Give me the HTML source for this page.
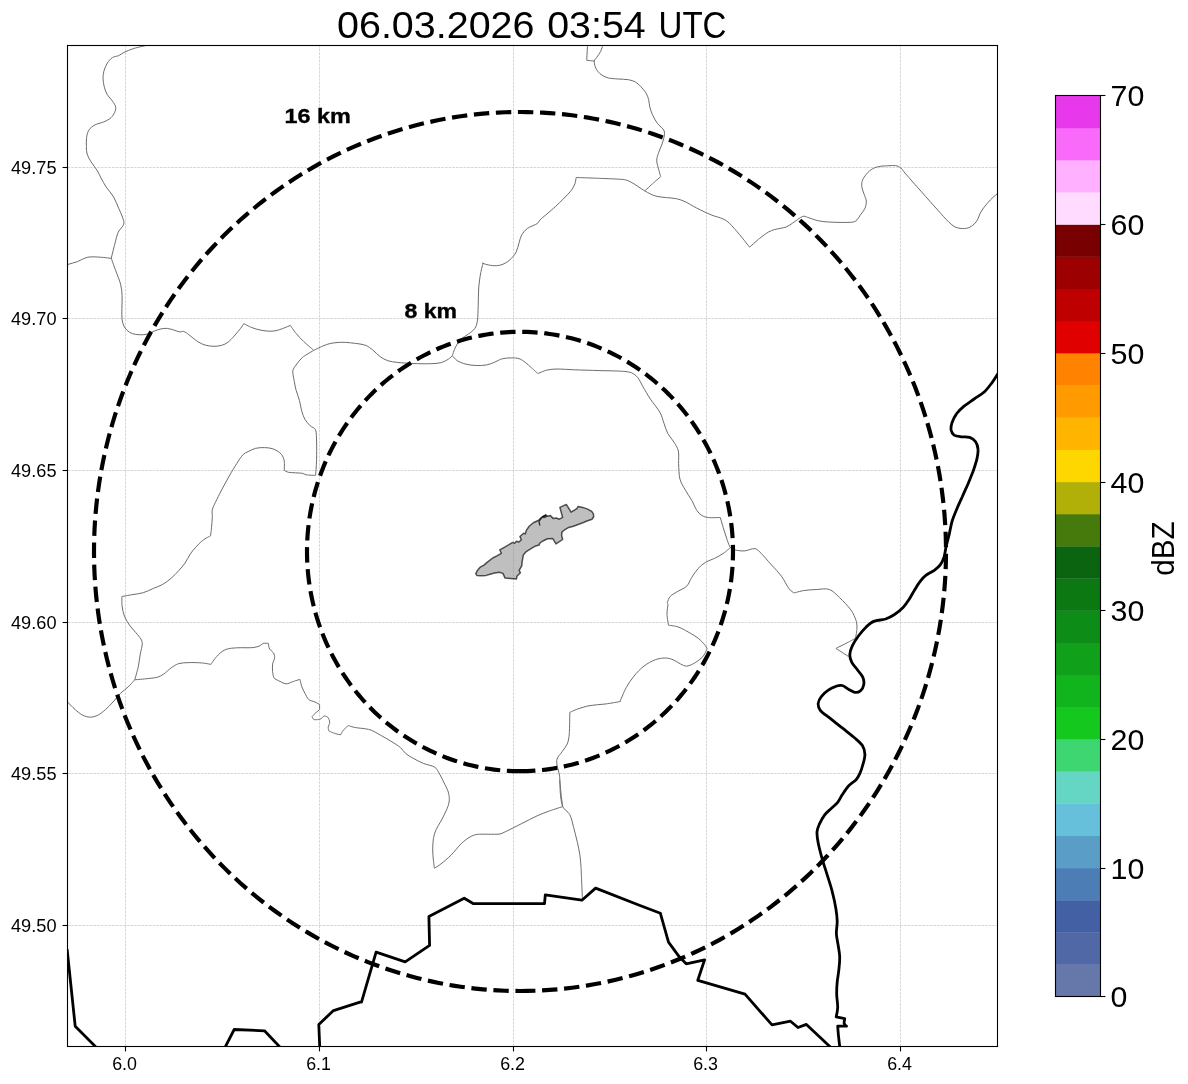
<!DOCTYPE html>
<html><head><meta charset="utf-8"><title>radar</title>
<style>html,body{margin:0;padding:0;background:#fff;}svg{display:block;font-family:"Liberation Sans",sans-serif;will-change:transform;}</style></head><body>
<svg width="1188" height="1084" viewBox="0 0 1188 1084">
<rect width="1188" height="1084" fill="#fff"/>
<defs><clipPath id="ax"><rect x="67.5" y="45.5" width="930.0" height="1001.0"/></clipPath></defs>
<g stroke="#b0b0b0" stroke-opacity="0.85" stroke-width="0.6" stroke-dasharray="2.7 1.0" fill="none">
<path d="M125.5,1046.5 V45.5"/>
<path d="M319.5,1046.5 V45.5"/>
<path d="M513.5,1046.5 V45.5"/>
<path d="M706.5,1046.5 V45.5"/>
<path d="M900.5,1046.5 V45.5"/>
<path d="M67.5,925.5 H997.5"/>
<path d="M67.5,773.5 H997.5"/>
<path d="M67.5,622.5 H997.5"/>
<path d="M67.5,470.5 H997.5"/>
<path d="M67.5,318.5 H997.5"/>
<path d="M67.5,167.5 H997.5"/>
</g>
<g clip-path="url(#ax)">
<g fill="none" stroke="#6c6c6c" stroke-width="1.0" stroke-linejoin="round">
<path d="M146.0,45.5 C146.0,45.5 137.5,47.3 133.8,48.5 C130.4,49.6 126.3,51.3 123.7,52.5 C122.0,53.4 120.5,54.8 118.7,55.6 C116.8,56.4 114.2,56.4 112.4,57.6 C110.5,58.8 108.7,61.0 107.3,63.1 C105.9,65.3 104.8,68.2 104.0,70.7 C103.3,73.2 103.0,75.7 103.0,78.3 C103.1,81.0 103.6,84.4 104.3,87.1 C105.0,89.8 106.0,92.4 107.3,94.7 C108.7,97.0 111.0,98.9 112.4,101.0 C113.7,103.0 115.4,105.2 115.7,107.3 C116.0,109.4 115.1,111.7 114.1,113.6 C113.2,115.5 111.6,117.3 109.8,118.7 C108.1,120.1 105.7,121.1 103.5,122.0 C101.0,123.0 97.1,123.7 94.7,125.0 C92.5,126.2 90.2,127.9 88.9,130.1 C87.5,132.2 87.0,135.0 86.6,137.6 C86.2,140.4 86.3,143.7 86.4,146.5 C86.4,149.0 86.4,151.6 87.1,154.0 C87.9,156.6 89.4,159.2 90.9,161.6 C92.6,164.4 95.5,167.7 97.2,170.5 C98.7,172.9 99.7,175.5 101.0,178.0 C102.5,180.8 104.2,184.0 106.1,186.9 C108.2,190.0 111.5,193.4 113.6,197.0 C115.7,200.5 117.2,205.0 118.7,208.3 C120.0,211.3 121.6,214.5 122.5,217.2 C123.2,219.5 124.4,221.9 123.7,224.2 C123.0,226.8 119.5,229.3 118.2,232.3 C116.7,235.6 115.9,239.9 114.9,243.7 C113.7,248.1 111.1,258.8 111.1,258.8 C111.1,258.8 111.3,258.4 111.3,258.4 C111.3,258.4 114.1,266.3 115.6,270.3 C117.1,274.6 119.5,280.0 120.6,284.2 C121.6,287.9 121.9,291.7 122.1,295.6 C122.3,299.6 121.9,304.2 121.9,308.2 C121.9,312.0 121.7,316.4 122.1,319.5 C122.5,322.2 123.2,325.0 124.4,327.1 C125.6,329.2 127.6,331.0 129.4,332.2 C131.3,333.4 133.5,334.1 135.8,334.4 C138.5,334.8 142.7,335.0 145.9,334.4 C149.0,333.9 152.2,331.8 154.7,330.9 C156.8,330.1 158.9,329.3 161.0,328.9 C163.1,328.5 165.2,328.2 167.3,328.4 C169.6,328.6 172.8,329.8 174.9,330.4 C176.6,330.9 178.5,331.8 179.9,331.9 C181.2,332.1 182.5,331.0 183.7,331.4 C185.2,331.9 187.2,333.5 188.8,334.7 C191.1,336.4 194.9,339.8 197.6,341.5 C200.0,343.0 202.5,344.3 205.2,345.1 C207.9,345.9 211.3,346.3 214.0,346.3 C216.6,346.4 219.3,346.0 221.6,345.3 C223.9,344.7 226.1,343.7 227.9,342.3 C230.0,340.7 232.2,338.2 234.2,336.0 C236.3,333.6 239.0,330.4 240.6,328.4 C241.7,326.9 243.8,323.6 243.8,323.6 C243.8,323.6 249.1,326.6 251.9,327.6 C254.9,328.8 258.7,329.8 262.0,330.4 C265.3,331.0 269.2,331.3 272.1,331.2 C274.7,331.1 277.2,330.4 279.7,329.6 C282.7,328.7 290.3,325.4 290.3,325.4 C290.3,325.4 294.0,330.9 296.1,333.4 C298.3,336.1 301.0,339.0 303.7,341.5 C306.6,344.3 313.8,350.4 313.8,350.4"/>
<path d="M111.3,258.4 C111.3,258.4 104.0,257.4 100.4,257.2 C96.5,257.0 91.6,256.5 87.8,257.2 C84.2,257.9 81.0,260.2 77.7,261.5 C74.4,262.7 70.5,263.7 67.6,264.5 C65.1,265.2 60.0,266.5 60.0,266.5"/>
<path d="M313.8,350.4 C313.8,350.4 319.9,347.2 322.6,346.1 C325.1,345.0 327.6,344.1 330.2,343.5 C333.1,342.9 336.9,342.4 340.3,342.3 C343.7,342.1 347.1,342.5 350.4,342.8 C353.6,343.1 357.3,343.6 360.0,344.0 C362.1,344.4 364.3,344.7 366.3,345.6 C368.4,346.5 370.6,348.3 372.6,349.8 C374.9,351.7 377.7,354.9 380.2,356.7 C382.5,358.3 385.1,359.8 387.8,360.7 C390.7,361.7 394.5,362.1 397.9,362.5 C402.1,362.9 408.0,363.3 413.0,363.5 C418.5,363.7 426.1,363.9 430.7,363.7 C434.1,363.6 437.9,363.5 440.8,362.7 C443.5,362.0 446.4,360.4 448.4,359.2 C449.9,358.3 452.4,355.7 452.4,355.7"/>
<path d="M313.8,350.4 C313.8,350.4 305.4,355.0 302.4,357.4 C299.9,359.5 297.7,362.8 296.1,365.0 C294.8,366.8 293.1,368.6 292.8,370.8 C292.5,373.5 293.8,378.2 294.3,381.4 C294.8,384.4 295.3,387.3 296.1,390.3 C297.0,393.4 298.5,396.9 299.4,400.4 C300.4,403.9 301.0,408.6 301.9,411.7 C302.7,414.3 303.6,417.0 304.9,419.3 C306.3,421.6 308.2,423.8 310.0,425.6 C311.7,427.3 314.7,427.7 315.6,429.9 C316.6,432.6 316.4,438.0 316.6,442.0 C316.7,447.0 316.7,454.1 316.6,459.7 C316.4,464.9 315.6,475.4 315.6,475.4 C315.6,475.4 308.4,475.2 306.2,474.8 C304.9,474.6 303.8,473.5 302.4,473.3 C299.5,472.9 291.6,472.8 288.5,472.3 C287.0,472.1 284.2,470.3 284.2,470.3 C284.2,470.3 284.7,463.6 284.2,461.0 C283.9,458.7 282.9,456.3 281.7,454.6 C280.6,453.0 278.8,451.9 277.2,450.9 C275.6,449.9 273.9,449.1 272.1,448.6 C270.0,448.0 267.1,447.6 264.5,447.6 C261.8,447.5 258.4,447.7 255.7,448.3 C253.0,449.0 250.2,450.6 248.1,451.6 C246.4,452.5 244.4,453.2 243.1,454.6 C241.2,456.6 238.7,460.4 236.8,463.5 C234.5,467.1 231.6,471.8 229.2,476.1 C226.7,480.5 223.9,485.6 221.6,490.0 C219.4,494.2 216.9,499.3 215.3,502.6 C214.2,505.0 212.8,507.4 212.3,509.9 C211.8,512.5 212.4,515.1 212.3,517.7 C212.1,520.6 211.8,524.7 211.5,527.8 C211.3,530.5 210.5,535.9 210.5,535.9 C210.5,535.9 205.0,538.5 202.7,540.4 C200.1,542.4 197.2,545.7 195.1,548.0 C193.3,550.0 191.5,552.1 190.1,554.3 C188.4,556.8 186.9,560.4 185.0,563.1 C183.1,565.8 180.9,568.3 178.7,570.7 C176.4,573.2 173.8,576.0 171.1,578.3 C168.4,580.6 165.2,582.9 162.3,584.6 C159.5,586.2 156.4,587.1 153.4,588.4 C150.3,589.7 146.8,591.6 143.3,592.7 C139.8,593.7 135.5,594.1 132.0,594.7 C128.6,595.3 121.9,596.5 121.9,596.5 C121.9,596.5 121.7,602.9 122.1,606.1 C122.5,609.3 123.2,613.0 124.4,616.2 C125.6,619.3 127.6,622.3 129.4,625.0 C131.3,627.7 133.9,630.3 135.8,632.6 C137.5,634.7 139.7,637.0 140.8,638.9 C141.7,640.4 142.4,642.2 142.3,643.9 C142.2,646.5 140.9,650.7 140.3,654.0 C139.6,657.8 139.2,662.5 138.3,666.7 C137.4,671.0 134.7,679.8 134.7,679.8"/>
<path d="M134.7,679.8 C134.7,679.8 130.5,684.7 128.2,686.9 C125.8,689.1 122.9,690.9 120.6,693.2 C118.1,695.7 115.6,699.3 113.0,702.0 C110.6,704.6 108.0,707.4 105.5,709.6 C103.1,711.6 100.4,713.9 97.9,715.2 C95.5,716.3 92.8,717.2 90.3,717.2 C87.8,717.2 85.1,716.3 82.7,715.2 C80.2,713.9 77.5,711.6 75.2,709.6 C72.6,707.4 67.6,702.0 67.6,702.0"/>
<path d="M134.7,679.8 C134.7,679.8 142.2,679.2 145.9,678.8 C149.6,678.4 154.3,678.0 157.2,677.3 C159.5,676.7 161.6,675.5 163.5,674.2 C165.9,672.7 168.6,669.7 171.1,667.9 C173.5,666.3 175.9,664.5 178.7,663.6 C181.6,662.8 185.4,662.7 188.8,662.6 C192.6,662.5 197.7,662.6 201.4,662.9 C204.6,663.1 211.0,664.4 211.0,664.4 C211.0,664.4 214.4,658.9 216.6,656.6 C218.8,654.2 221.6,651.6 224.1,650.3 C226.4,649.0 229.1,648.6 231.7,648.2 C234.7,647.8 238.5,647.8 241.8,647.7 C245.2,647.6 249.0,648.0 251.9,647.7 C254.5,647.5 257.6,646.7 259.5,646.0 C260.9,645.4 261.8,643.9 263.3,643.4 C264.8,643.0 268.3,643.4 268.3,643.4 C268.3,643.4 268.8,647.4 269.6,649.0 C270.4,650.5 272.5,651.3 273.4,652.8 C274.2,654.3 274.8,656.1 274.6,657.8 C274.5,659.7 272.9,662.0 272.6,664.1 C272.3,666.5 272.4,669.4 272.6,671.7 C272.9,673.9 273.2,676.6 274.1,678.0 C275.1,679.4 276.9,679.8 278.4,680.6 C280.4,681.5 283.7,683.6 286.0,683.8 C288.2,684.0 290.2,682.5 292.3,681.8 C294.6,681.1 299.9,679.3 299.9,679.3 C299.9,679.3 301.1,684.6 301.9,686.9 C302.7,689.1 303.8,691.1 304.9,693.2 C306.1,695.3 307.1,698.0 308.7,699.5 C310.4,701.0 313.2,701.2 315.1,702.0 C316.6,702.8 319.6,704.5 319.6,704.5 C319.6,704.5 319.6,709.6 319.6,709.6 C319.6,709.6 316.3,712.2 315.1,713.4 C314.0,714.4 312.0,716.7 312.0,716.7 C312.0,716.7 313.8,719.7 313.8,719.7 C313.8,719.7 318.4,719.8 320.1,719.2 C321.7,718.6 323.9,715.9 323.9,715.9 C323.9,715.9 326.8,716.2 327.7,717.2 C328.6,718.2 329.6,720.5 329.7,722.2 C329.8,723.9 328.3,725.8 328.2,727.3 C328.1,728.6 328.9,731.1 328.9,731.1 C328.9,731.1 333.3,733.0 335.3,733.6 C337.1,734.2 340.8,734.8 340.8,734.8 C340.8,734.8 341.7,732.3 342.5,731.3 C343.7,729.8 348.1,725.5 348.1,725.5 C348.1,725.5 352.7,727.1 355.2,727.5 C358.0,728.1 362.5,728.3 365.3,728.8 C367.4,729.1 369.6,729.5 371.6,730.3 C374.1,731.4 377.5,733.5 380.4,735.1 C383.6,736.9 387.2,738.9 390.5,740.9 C393.9,743.0 398.1,745.6 400.6,747.7 C402.6,749.4 403.7,751.9 405.7,753.5 C407.8,755.3 410.6,756.9 413.2,758.3 C416.2,760.0 419.9,762.0 423.3,763.4 C426.9,764.9 432.0,765.4 434.7,767.2 C437.1,768.8 438.3,771.7 439.7,774.2 C441.4,777.1 443.3,781.2 444.8,784.3 C446.2,787.2 447.9,790.2 448.6,793.2 C449.3,796.0 449.5,799.1 449.1,802.0 C448.7,805.0 447.3,808.0 446.1,810.9 C444.7,814.0 442.7,817.8 441.0,821.0 C439.4,824.0 437.2,826.9 436.0,829.8 C434.8,832.6 433.9,835.6 433.4,838.6 C432.9,842.0 432.7,846.4 432.7,850.0 C432.7,853.4 433.1,857.1 433.4,860.1 C433.7,862.8 434.4,868.2 434.4,868.2 C434.4,868.2 439.0,865.5 441.0,863.9 C443.8,861.7 447.9,858.2 451.1,855.1 C454.5,851.7 458.1,846.7 461.2,843.7 C463.9,841.1 467.3,838.4 470.1,836.9 C472.4,835.6 475.0,834.6 477.6,834.3 C482.5,833.9 494.3,834.6 499.1,834.1 C501.8,833.8 504.2,832.2 506.7,831.1 C510.5,829.3 516.8,826.0 521.8,823.5 C526.9,821.0 532.3,818.0 537.0,815.9 C541.1,814.0 545.3,812.4 549.6,810.9 C553.9,809.3 562.7,806.6 562.7,806.6"/>
<path d="M730.4,547.6 C730.4,547.6 725.9,551.7 723.3,553.4 C720.7,555.2 717.4,557.0 714.5,558.4 C711.6,559.9 708.4,560.5 705.7,562.2 C702.9,563.9 700.3,566.1 698.1,568.5 C695.8,571.1 693.7,574.4 691.8,577.4 C689.9,580.2 689.0,583.9 686.7,586.2 C684.4,588.5 680.6,589.6 677.9,591.3 C675.3,592.9 672.1,594.4 670.3,596.3 C668.7,598.0 667.7,601.3 667.3,602.6 C667.1,603.2 668.0,603.6 668.0,604.2 C667.9,606.1 666.9,610.9 667.0,614.3 C667.1,617.8 668.5,625.2 668.5,625.2 C668.5,625.2 675.0,625.9 678.1,626.9 C681.4,628.1 684.9,630.1 688.2,632.0 C691.5,633.9 695.5,636.2 698.3,638.3 C700.6,640.1 703.1,642.9 704.6,644.6 C705.6,645.7 707.1,648.4 707.1,648.4 C707.1,648.4 705.1,653.8 703.3,656.0 C701.4,658.3 698.5,660.6 695.8,662.3 C693.0,664.0 689.4,665.8 686.9,666.1 C684.7,666.3 682.6,665.0 680.6,664.0 C678.3,663.0 675.6,660.8 673.0,659.7 C670.6,658.8 668.0,658.0 665.5,658.0 C662.5,658.0 658.6,658.5 655.4,659.7 C651.8,661.1 647.4,663.4 644.0,666.1 C640.4,668.8 636.8,672.6 633.9,676.2 C631.0,679.7 628.5,683.5 626.3,687.5 C624.0,691.7 620.0,701.4 620.0,701.4 C620.0,701.4 620.3,701.5 620.3,701.5 C620.3,701.5 610.2,703.4 605.2,704.0 C600.1,704.7 594.6,704.7 590.0,705.6 C585.7,706.3 580.7,708.0 577.4,709.1 C574.8,710.0 569.8,712.4 569.8,712.4 C569.8,712.4 569.7,728.6 569.3,733.8 C569.0,737.3 568.5,741.0 567.3,743.9 C566.1,746.8 563.9,749.0 562.2,751.5 C560.5,754.3 557.0,756.9 556.7,760.4 C556.2,764.6 559.1,771.5 559.7,776.8 C560.3,781.8 559.7,787.0 560.2,791.9 C560.7,796.8 561.1,802.8 562.7,806.6 C564.1,809.9 568.1,811.5 569.8,814.6 C571.6,818.1 572.4,823.0 573.6,827.3 C574.8,831.9 576.3,837.8 577.4,842.4 C578.3,846.6 579.3,850.8 579.9,855.1 C580.5,859.6 581.0,867.3 581.2,869.9 C581.2,870.3 581.1,870.6 581.2,870.9 C581.4,875.7 582.4,898.7 582.4,898.7"/>
<path d="M576.1,177.5 C576.1,177.5 575.7,182.0 574.8,184.0 C573.9,186.4 572.2,189.4 570.3,191.6 C567.0,195.4 560.2,202.1 555.2,206.8 C550.3,211.3 543.0,217.1 540.0,219.9 C538.9,220.9 538.6,222.7 537.4,223.5 C535.3,224.9 529.9,226.6 527.3,228.5 C525.0,230.2 523.1,232.5 521.7,234.8 C520.4,237.1 520.0,239.9 519.2,242.4 C518.2,245.4 517.5,249.6 515.9,252.5 C514.3,255.4 511.9,258.1 509.6,260.1 C507.4,262.0 504.5,263.7 502.0,264.6 C499.6,265.5 497.0,265.7 494.4,265.7 C491.9,265.7 488.9,265.1 486.9,264.6 C485.3,264.3 482.3,263.1 482.3,263.1 C482.3,263.1 483.0,263.5 483.0,263.5 C483.0,263.5 481.3,269.7 480.7,272.8 C480.0,276.9 479.1,282.9 478.7,288.0 C478.3,293.5 478.4,300.2 478.2,305.7 C478.0,310.7 478.0,317.0 477.4,320.8 C477.0,323.4 476.4,326.2 474.9,328.4 C473.4,330.6 470.8,332.2 468.6,333.9 C466.3,335.7 463.1,337.0 461.0,339.0 C458.9,341.0 457.2,343.8 456.0,346.1 C454.8,348.0 454.0,350.8 453.4,352.4 C453.0,353.4 452.4,355.7 452.4,355.7 C452.4,355.7 455.3,359.5 457.2,360.7 C459.5,362.1 463.0,363.5 466.1,364.2 C469.2,365.0 472.8,365.4 476.2,365.5 C479.5,365.6 483.3,365.5 486.3,365.0 C488.9,364.6 491.4,363.4 493.8,362.5 C496.6,361.4 499.7,359.4 502.7,358.7 C505.5,358.0 508.8,357.9 511.5,357.9 C514.1,357.9 516.8,357.9 519.1,358.7 C521.4,359.4 523.4,361.0 525.4,362.5 C527.5,364.0 529.6,366.2 531.7,368.0 C533.8,369.9 538.0,373.6 538.0,373.6 C538.0,373.6 543.8,370.8 546.9,370.1 C550.0,369.3 553.6,369.1 557.0,369.0 C561.6,369.0 568.8,369.6 574.6,369.8 C581.8,370.1 591.9,370.3 599.9,370.6 C607.5,370.8 617.4,370.9 622.6,371.3 C625.6,371.5 628.9,371.8 631.5,372.8 C633.9,373.8 636.1,375.6 637.8,377.6 C639.7,379.9 641.1,383.5 642.8,386.5 C644.9,390.0 647.7,395.0 650.4,399.1 C653.3,403.4 657.7,408.4 660.0,412.5 C661.9,415.8 662.7,419.8 664.0,423.3 C665.2,426.7 666.1,430.3 667.8,433.4 C669.5,436.6 672.3,439.3 674.1,442.3 C675.8,445.1 677.7,447.9 678.4,451.1 C679.1,454.7 678.4,459.5 678.6,463.7 C678.9,468.4 678.8,474.5 679.9,478.9 C680.9,483.0 683.5,486.7 685.5,490.3 C687.4,493.7 689.9,497.0 691.8,500.4 C693.6,503.6 695.1,507.9 696.8,510.5 C698.1,512.4 700.0,514.3 701.9,515.5 C703.7,516.7 706.0,517.3 708.2,517.5 C711.3,517.9 720.3,517.5 720.3,517.5 C720.3,517.5 723.0,527.2 724.6,531.9 C726.3,536.9 728.3,544.5 730.4,547.6 C731.8,549.6 734.8,549.8 737.2,550.4 C739.6,550.9 742.3,551.1 744.8,550.9 C747.7,550.6 752.2,548.2 754.9,548.6 C757.5,549.0 759.3,551.5 761.2,553.4 C763.9,556.1 767.9,561.0 771.3,564.7 C774.7,568.5 778.5,572.1 781.4,576.1 C784.3,580.1 786.9,585.9 789.0,588.7 C790.3,590.5 794.0,593.0 794.0,593.0 C794.0,593.0 800.7,591.0 804.1,590.5 C807.9,589.9 812.6,589.7 816.8,589.5 C821.0,589.3 825.6,588.1 829.4,589.5 C833.2,590.8 836.4,594.6 839.5,597.6 C843.1,601.0 848.1,606.1 850.9,609.9 C853.2,613.2 855.1,617.4 856.1,620.6 C857.0,623.4 857.0,626.5 856.9,629.4 C856.7,632.4 855.4,638.3 855.4,638.3 C855.4,638.3 850.8,640.9 848.5,642.1 C845.3,643.8 835.9,648.4 835.9,648.4 C835.9,648.4 848.5,656.5 848.5,656.5"/>
<path d="M587.5,45.7 C587.5,45.7 586.7,60.3 586.7,60.3 C586.7,60.3 594.3,61.1 594.3,61.1"/>
<path d="M602.6,45.7 C602.6,45.7 601.5,49.6 600.6,51.5 C599.6,53.4 597.9,55.7 596.8,57.3 C596.0,58.5 594.5,59.6 594.3,61.1 C594.0,62.7 594.7,65.1 595.3,66.9 C595.9,68.6 596.9,70.3 598.1,71.7 C599.2,73.1 600.6,74.3 602.1,75.2 C603.8,76.3 606.2,77.5 608.4,78.0 C611.1,78.6 615.0,78.7 618.3,79.0 C621.6,79.3 625.5,79.2 628.4,79.7 C630.8,80.2 633.4,80.8 635.5,82.0 C637.6,83.2 639.3,85.0 641.0,86.8 C642.8,88.7 644.8,91.0 646.1,93.1 C647.2,95.1 648.0,97.3 648.6,99.4 C649.2,101.8 649.2,104.5 649.8,107.0 C650.5,109.5 651.3,112.2 652.4,114.6 C653.6,117.3 655.4,120.7 657.4,123.4 C659.4,126.2 663.3,128.1 664.2,131.0 C665.2,134.0 663.8,137.8 663.0,141.1 C662.1,144.7 659.7,149.3 658.7,152.5 C657.9,155.0 656.8,157.5 656.7,160.1 C656.6,162.6 657.6,165.1 658.2,167.6 C658.9,170.4 660.7,176.5 660.7,176.5 C660.7,176.5 656.0,180.7 653.6,182.8 C651.0,185.2 644.8,190.9 644.8,190.9"/>
<path d="M576.1,177.5 C576.1,177.5 595.1,178.1 603.1,178.5 C610.3,178.8 619.8,179.0 624.6,179.7 C627.3,180.1 629.8,181.5 632.2,182.8 C635.5,184.6 640.8,188.6 644.8,190.9 C648.4,192.9 652.1,195.2 656.2,196.2 C661.4,197.5 671.5,197.8 676.4,198.7 C679.4,199.3 682.4,200.4 685.2,201.7 C688.6,203.3 692.7,206.1 696.6,208.0 C701.0,210.3 707.3,213.3 711.7,215.1 C715.4,216.6 720.1,217.5 723.1,218.9 C725.4,219.9 727.6,221.4 729.4,223.2 C732.1,225.8 736.2,230.7 739.5,234.5 C742.9,238.5 749.6,247.2 749.6,247.2 C749.6,247.2 756.5,240.9 759.7,238.3 C762.5,236.1 766.0,233.5 768.5,232.0 C770.5,230.9 772.7,230.1 774.8,229.5 C777.8,228.7 783.3,228.0 786.2,227.0 C788.5,226.1 790.5,224.5 792.5,223.2 C795.3,221.4 800.1,217.3 802.6,216.4 C804.2,215.7 806.0,216.9 807.7,217.4 C810.2,218.1 814.3,219.9 817.8,220.7 C821.3,221.4 825.0,221.8 828.7,222.0 C833.5,222.3 842.4,222.6 846.9,222.4 C849.7,222.3 853.0,222.6 855.4,221.2 C857.7,219.8 859.4,216.3 861.0,214.1 C862.5,212.2 864.2,210.3 865.1,208.1 C865.9,205.9 866.4,203.4 866.3,201.0 C866.1,198.7 864.7,196.1 864.0,193.9 C863.4,191.9 862.4,189.9 862.0,187.9 C861.7,185.9 861.5,183.8 862.0,181.8 C862.5,179.8 863.7,177.6 865.1,175.8 C866.6,173.7 868.9,171.2 871.1,169.7 C873.2,168.2 875.7,167.3 878.2,166.7 C880.7,166.0 883.6,165.9 886.3,165.9 C889.6,165.8 895.2,164.9 898.4,166.3 C901.6,167.6 903.2,171.2 905.5,173.7 C909.3,178.0 916.2,185.9 921.6,191.9 C927.0,198.0 933.2,205.1 937.8,210.1 C941.4,214.2 946.0,219.4 948.9,222.2 C950.7,224.0 952.9,225.8 954.9,226.9 C956.8,227.8 958.9,228.3 961.0,228.5 C963.2,228.7 965.9,228.6 968.1,227.9 C970.3,227.2 972.5,225.7 974.1,224.2 C975.7,222.9 976.8,221.0 977.8,219.2 C978.8,217.3 979.2,215.1 980.2,213.1 C981.3,211.1 982.8,209.0 984.2,207.1 C985.9,204.9 988.2,202.2 990.3,200.0 C992.4,197.8 995.3,195.5 997.0,193.9 C998.1,192.9 1000.4,190.9 1000.4,190.9"/>
<path d="M559.7,780.0 C559.7,780.0 560.7,790.7 561.2,795.2 C561.6,798.9 562.7,806.5 562.7,806.5"/>
</g>
<path d="M475.8,573.7 L477.4,570.4 L480.3,567.1 L483.9,565.1 L487.4,562.2 L492.7,558.0 L497.4,555.7 L501.3,553.3 L499.8,549.8 L505.1,546.9 L512.7,542.4 L514.5,543.3 L516.5,541.2 L518.6,542.1 L521.3,540.0 L520.0,536.5 L523.6,533.3 L525.3,533.9 L526.3,530.4 L529.2,526.2 L533.3,522.7 L538.7,520.3 L541.6,517.4 L545.7,514.8 L547.5,516.2 L550.4,515.6 L553.4,518.6 L556.3,518.0 L559.3,519.2 L562.6,517.4 L559.9,507.4 L566.3,504.4 L571.1,512.1 L576.9,508.6 L578.1,506.4 L582.8,507.4 L587.6,509.1 L591.7,511.3 L593.4,513.9 L593.7,516.8 L592.0,519.2 L587.6,520.7 L582.8,522.7 L578.1,524.5 L573.4,526.2 L568.7,527.4 L564.6,529.8 L561.9,532.1 L561.6,535.1 L562.6,539.5 L556.0,543.9 L552.8,538.6 L547.5,538.8 L542.8,541.0 L539.8,543.1 L539.0,545.1 L535.7,545.9 L531.0,548.6 L526.3,551.6 L523.3,555.1 L522.2,561.0 L521.8,565.7 L519.2,570.4 L520.4,572.8 L516.9,576.3 L516.5,578.9 L505.1,578.1 L502.9,573.4 L499.2,572.2 L494.5,573.0 L490.9,574.0 L486.2,575.4 L481.5,575.7 L476.8,575.4Z" fill="#808080" fill-opacity="0.5" stroke="#000" stroke-opacity="0.66" stroke-width="1.5" stroke-linejoin="round"/>
<path d="M539.8,525.0 L539.0,521.5 L541.0,518.6 L543.0,516.4 L545.7,515.3 L546.3,516.6 L543.7,517.6" fill="none" stroke="#000" stroke-opacity="0.75" stroke-width="1.3" stroke-linejoin="round" stroke-linecap="round"/>
<g fill="none" stroke="#000" stroke-width="2.8" stroke-linejoin="round" stroke-linecap="butt">
<path d="M67.1,949.2 L75.2,1026.2 L96.6,1047.7"/>
<path d="M224.6,1048.2 L234.2,1029.5 L264.5,1030.8 L281.0,1048.2"/>
<path d="M319.8,1048.9 L318.8,1024.4 L333.5,1010.6 L360.0,1002.2 L361.5,1002.2 L376.1,952.2 L405.2,961.8 L429.6,945.4 L428.9,916.4 L464.2,898.2 L473.1,903.5 L544.5,903.7 L545.3,894.9 L581.9,900.2 L595.6,888.1 L640.0,905.5 L660.4,913.3 L668.5,942.1 L679.3,956.8 L686.2,963.8 L704.6,959.8 L697.8,980.3 L745.0,994.1 L772.0,1024.9 L790.5,1021.2 L798.0,1027.5 L806.4,1024.4 L831.6,1048.2"/>
<path d="M999.3,371.0 C999.3,371.0 998.0,373.6 997.2,374.8 C996.0,376.8 993.8,380.3 991.9,382.8 C989.8,385.6 987.3,389.1 984.5,391.7 C981.5,394.4 977.6,396.6 974.2,399.0 C970.7,401.5 966.8,404.0 963.8,406.4 C961.2,408.6 958.4,411.1 956.5,413.8 C954.5,416.5 952.9,420.0 952.0,422.7 C951.3,425.0 950.8,428.0 951.1,430.0 C951.5,432.0 952.5,433.9 954.1,435.1 C955.7,436.2 958.6,436.5 960.9,436.8 C963.5,437.2 967.3,436.6 969.7,437.4 C972.1,438.2 974.3,439.9 975.6,441.8 C977.0,443.8 977.8,446.7 978.0,449.2 C978.3,451.9 977.7,455.2 977.1,458.1 C976.4,461.5 974.9,466.0 973.6,469.9 C972.1,474.1 970.1,478.8 968.3,483.2 C966.4,487.6 964.3,492.0 962.4,496.5 C960.4,500.9 958.2,505.6 956.5,509.7 C954.9,513.6 953.2,517.5 952.0,521.5 C950.8,525.7 950.1,530.7 949.1,534.8 C948.1,538.8 947.0,543.0 946.1,546.6 C945.3,550.1 945.0,553.9 944.1,557.0 C943.2,559.8 941.8,562.7 940.2,564.9 C938.7,567.1 936.5,568.7 934.3,570.3 C931.9,572.0 927.9,573.6 925.5,575.6 C923.2,577.4 921.3,579.7 919.6,582.1 C917.6,584.7 915.4,588.7 913.7,591.5 C912.1,594.0 910.9,596.7 909.2,599.2 C907.5,601.8 905.6,604.8 903.3,607.2 C900.9,609.7 897.4,612.6 894.5,614.5 C891.7,616.4 888.7,617.9 885.6,619.0 C882.2,620.1 877.0,620.0 873.8,621.4 C870.9,622.6 868.5,624.8 866.2,626.9 C863.7,629.3 860.9,632.6 858.6,635.8 C856.3,638.9 853.8,642.7 852.3,645.9 C851.0,648.6 849.9,652.0 849.8,654.7 C849.7,657.3 850.6,659.9 851.8,662.3 C853.1,664.8 855.5,667.3 857.4,669.8 C859.2,672.4 861.9,674.9 862.9,677.4 C863.9,679.8 864.1,682.8 863.7,685.0 C863.3,687.2 861.9,689.6 860.4,690.8 C858.9,692.0 856.8,692.6 854.8,692.3 C852.9,692.1 850.6,690.4 848.5,689.3 C846.4,688.2 844.3,686.0 842.2,685.5 C840.2,685.0 837.9,685.6 835.9,686.3 C833.6,687.0 830.6,688.4 828.3,690.1 C825.9,691.7 823.2,694.1 821.5,696.4 C819.9,698.4 818.4,701.1 818.2,703.4 C818.0,705.7 818.8,708.4 820.3,710.3 C822.1,712.7 826.5,715.3 829.6,717.8 C833.3,720.8 838.0,724.6 842.2,727.9 C846.4,731.3 851.5,735.1 854.8,738.0 C857.5,740.4 860.7,742.9 862.4,745.6 C864.0,748.2 864.9,751.4 864.9,754.4 C865.0,757.6 863.8,761.4 862.9,764.5 C862.1,767.6 861.0,770.9 859.9,773.4 C858.9,775.6 857.8,777.9 856.1,779.7 C854.2,781.8 850.8,783.6 848.5,786.0 C846.2,788.5 844.0,792.1 842.2,794.8 C840.6,797.3 839.5,800.1 837.7,802.4 C835.8,804.7 833.0,806.6 830.9,808.7 C828.7,810.8 826.3,812.7 824.5,815.1 C822.7,817.6 820.8,821.1 819.5,823.9 C818.4,826.4 817.2,829.0 817.0,831.8 C816.8,835.0 817.5,839.4 818.2,843.1 C819.1,847.6 820.6,853.3 822.0,858.3 C823.5,863.5 825.4,869.2 827.1,874.7 C828.8,880.2 830.7,885.6 832.1,891.1 C833.6,896.8 835.1,903.7 835.9,908.8 C836.6,913.0 837.1,917.2 837.2,921.4 C837.3,925.6 836.2,929.8 836.4,934.0 C836.6,938.2 837.9,942.9 838.4,946.7 C838.9,950.0 839.6,953.4 839.7,956.8 C839.8,960.6 839.4,965.2 838.9,969.4 C838.5,973.6 837.6,977.8 837.2,982.0 C836.8,986.2 836.6,990.4 836.7,994.6 C836.8,998.9 837.8,1003.6 837.7,1007.3 C837.6,1010.5 836.2,1016.9 836.2,1016.9 C836.2,1016.9 844.7,1018.6 844.7,1018.6 C844.7,1018.6 843.9,1022.4 844.2,1023.7 C844.5,1024.8 846.5,1026.2 846.5,1026.2 C846.5,1026.2 837.7,1026.2 837.7,1026.2 C837.7,1026.2 838.1,1032.1 838.4,1035.1 C838.8,1038.7 839.9,1048.2 839.9,1048.2"/>
</g>
<g fill="none" stroke="#000" stroke-width="4.17" stroke-dasharray="15.4 6.67">
<path d="M520.00,991.00 L527.43,990.93 L534.87,990.73 L542.30,990.40 L549.72,989.93 L557.13,989.33 L564.53,988.59 L571.92,987.72 L579.29,986.72 L586.64,985.59 L593.97,984.32 L601.28,982.93 L608.57,981.40 L615.83,979.74 L623.06,977.94 L630.26,976.02 L637.42,973.97 L644.55,971.80 L651.64,969.49 L658.69,967.06 L665.70,964.49 L672.66,961.81 L679.58,959.00 L686.45,956.06 L693.27,953.00 L700.04,949.82 L706.75,946.52 L713.40,943.10 L719.99,939.56 L726.53,935.90 L733.00,932.12 L739.41,928.23 L745.75,924.22 L752.02,920.10 L758.22,915.86 L764.34,911.52 L770.40,907.06 L776.37,902.50 L782.27,897.83 L788.09,893.06 L793.83,888.18 L799.48,883.19 L805.05,878.11 L810.53,872.93 L815.92,867.65 L821.23,862.27 L826.44,856.80 L831.56,851.24 L836.58,845.58 L841.51,839.84 L846.33,834.01 L851.06,828.09 L855.69,822.08 L860.22,816.00 L864.64,809.83 L868.96,803.59 L873.17,797.27 L877.27,790.87 L881.27,784.40 L885.15,777.86 L888.93,771.25 L892.59,764.57 L896.14,757.83 L899.57,751.03 L902.89,744.16 L906.09,737.24 L909.17,730.26 L912.14,723.23 L914.98,716.14 L917.71,709.00 L920.31,701.82 L922.79,694.59 L925.15,687.31 L927.39,680.00 L929.50,672.64 L931.48,665.25 L933.35,657.82 L935.08,650.37 L936.69,642.88 L938.17,635.36 L939.53,627.82 L940.76,620.25 L941.85,612.67 L942.82,605.06 L943.67,597.44 L944.38,589.80 L944.96,582.16 L945.42,574.50 L945.74,566.84 L945.94,559.17 L946.00,551.50 L945.94,543.83 L945.74,536.16 L945.42,528.50 L944.96,520.84 L944.38,513.20 L943.67,505.56 L942.82,497.94 L941.85,490.33 L940.76,482.75 L939.53,475.18 L938.17,467.64 L936.69,460.12 L935.08,452.63 L933.35,445.18 L931.48,437.75 L929.50,430.36 L927.39,423.00 L925.15,415.69 L922.79,408.41 L920.31,401.18 L917.71,394.00 L914.98,386.86 L912.14,379.77 L909.17,372.74 L906.09,365.76 L902.89,358.84 L899.57,351.97 L896.14,345.17 L892.59,338.43 L888.93,331.75 L885.15,325.14 L881.27,318.60 L877.27,312.13 L873.17,305.73 L868.96,299.41 L864.64,293.17 L860.22,287.00 L855.69,280.92 L851.06,274.91 L846.33,268.99 L841.51,263.16 L836.58,257.42 L831.56,251.76 L826.44,246.20 L821.23,240.73 L815.92,235.35 L810.53,230.07 L805.05,224.89 L799.48,219.81 L793.83,214.82 L788.09,209.94 L782.27,205.17 L776.37,200.50 L770.40,195.94 L764.34,191.48 L758.22,187.14 L752.02,182.90 L745.75,178.78 L739.41,174.77 L733.00,170.88 L726.53,167.10 L719.99,163.44 L713.40,159.90 L706.75,156.48 L700.04,153.18 L693.27,150.00 L686.45,146.94 L679.58,144.00 L672.66,141.19 L665.70,138.51 L658.69,135.94 L651.64,133.51 L644.55,131.20 L637.42,129.03 L630.26,126.98 L623.06,125.06 L615.83,123.26 L608.57,121.60 L601.28,120.07 L593.97,118.68 L586.64,117.41 L579.29,116.28 L571.92,115.28 L564.53,114.41 L557.13,113.67 L549.72,113.07 L542.30,112.60 L534.87,112.27 L527.43,112.07 L520.00,112.00 L512.57,112.07 L505.13,112.27 L497.70,112.60 L490.28,113.07 L482.87,113.67 L475.47,114.41 L468.08,115.28 L460.71,116.28 L453.36,117.41 L446.03,118.68 L438.72,120.07 L431.43,121.60 L424.17,123.26 L416.94,125.06 L409.74,126.98 L402.58,129.03 L395.45,131.20 L388.36,133.51 L381.31,135.94 L374.30,138.51 L367.34,141.19 L360.42,144.00 L353.55,146.94 L346.73,150.00 L339.96,153.18 L333.25,156.48 L326.60,159.90 L320.01,163.44 L313.47,167.10 L307.00,170.88 L300.59,174.77 L294.25,178.78 L287.98,182.90 L281.78,187.14 L275.66,191.48 L269.60,195.94 L263.63,200.50 L257.73,205.17 L251.91,209.94 L246.17,214.82 L240.52,219.81 L234.95,224.89 L229.47,230.07 L224.08,235.35 L218.77,240.73 L213.56,246.20 L208.44,251.76 L203.42,257.42 L198.49,263.16 L193.67,268.99 L188.94,274.91 L184.31,280.92 L179.78,287.00 L175.36,293.17 L171.04,299.41 L166.83,305.73 L162.73,312.13 L158.73,318.60 L154.85,325.14 L151.07,331.75 L147.41,338.43 L143.86,345.17 L140.43,351.97 L137.11,358.84 L133.91,365.76 L130.83,372.74 L127.86,379.77 L125.02,386.86 L122.29,394.00 L119.69,401.18 L117.21,408.41 L114.85,415.69 L112.61,423.00 L110.50,430.36 L108.52,437.75 L106.65,445.18 L104.92,452.63 L103.31,460.12 L101.83,467.64 L100.47,475.18 L99.24,482.75 L98.15,490.33 L97.18,497.94 L96.33,505.56 L95.62,513.20 L95.04,520.84 L94.58,528.50 L94.26,536.16 L94.06,543.83 L94.00,551.50 L94.06,559.17 L94.26,566.84 L94.58,574.50 L95.04,582.16 L95.62,589.80 L96.33,597.44 L97.18,605.06 L98.15,612.67 L99.24,620.25 L100.47,627.82 L101.83,635.36 L103.31,642.88 L104.92,650.37 L106.65,657.82 L108.52,665.25 L110.50,672.64 L112.61,680.00 L114.85,687.31 L117.21,694.59 L119.69,701.82 L122.29,709.00 L125.02,716.14 L127.86,723.23 L130.83,730.26 L133.91,737.24 L137.11,744.16 L140.43,751.03 L143.86,757.83 L147.41,764.57 L151.07,771.25 L154.85,777.86 L158.73,784.40 L162.73,790.87 L166.83,797.27 L171.04,803.59 L175.36,809.83 L179.78,816.00 L184.31,822.08 L188.94,828.09 L193.67,834.01 L198.49,839.84 L203.42,845.58 L208.44,851.24 L213.56,856.80 L218.77,862.27 L224.08,867.65 L229.47,872.93 L234.95,878.11 L240.52,883.19 L246.17,888.18 L251.91,893.06 L257.73,897.83 L263.63,902.50 L269.60,907.06 L275.66,911.52 L281.78,915.86 L287.98,920.10 L294.25,924.22 L300.59,928.23 L307.00,932.12 L313.47,935.90 L320.01,939.56 L326.60,943.10 L333.25,946.52 L339.96,949.82 L346.73,953.00 L353.55,956.06 L360.42,959.00 L367.34,961.81 L374.30,964.49 L381.31,967.06 L388.36,969.49 L395.45,971.80 L402.58,973.97 L409.74,976.02 L416.94,977.94 L424.17,979.74 L431.43,981.40 L438.72,982.93 L446.03,984.32 L453.36,985.59 L460.71,986.72 L468.08,987.72 L475.47,988.59 L482.87,989.33 L490.28,989.93 L497.70,990.40 L505.13,990.73 L512.57,990.93 L520.00,991.00"/>
<path d="M520.00,771.20 L523.72,771.17 L527.43,771.07 L531.15,770.90 L534.86,770.66 L538.56,770.36 L542.26,770.00 L545.96,769.56 L549.64,769.06 L553.32,768.50 L556.99,767.86 L560.64,767.16 L564.29,766.40 L567.91,765.57 L571.53,764.67 L575.13,763.71 L578.71,762.69 L582.28,761.60 L585.82,760.45 L589.35,759.23 L592.85,757.95 L596.33,756.61 L599.79,755.20 L603.23,753.73 L606.63,752.21 L610.02,750.62 L613.37,748.97 L616.70,747.25 L620.00,745.48 L623.26,743.65 L626.50,741.77 L629.70,739.82 L632.87,737.82 L636.01,735.76 L639.11,733.64 L642.17,731.47 L645.20,729.24 L648.19,726.96 L651.14,724.63 L654.05,722.24 L656.91,719.80 L659.74,717.31 L662.52,714.77 L665.27,712.18 L667.96,709.54 L670.61,706.85 L673.22,704.12 L675.78,701.34 L678.29,698.51 L680.75,695.64 L683.17,692.72 L685.53,689.76 L687.85,686.76 L690.11,683.72 L692.32,680.64 L694.48,677.51 L696.59,674.35 L698.64,671.16 L700.63,667.92 L702.58,664.65 L704.46,661.35 L706.29,658.01 L708.07,654.64 L709.78,651.24 L711.44,647.81 L713.04,644.35 L714.59,640.86 L716.07,637.34 L717.49,633.80 L718.85,630.23 L720.15,626.64 L721.40,623.03 L722.58,619.39 L723.69,615.73 L724.75,612.06 L725.74,608.36 L726.67,604.65 L727.54,600.92 L728.35,597.18 L729.09,593.42 L729.76,589.65 L730.38,585.87 L730.93,582.08 L731.41,578.27 L731.83,574.46 L732.19,570.65 L732.48,566.83 L732.71,563.00 L732.87,559.17 L732.97,555.33 L733.00,551.50 L732.97,547.67 L732.87,543.83 L732.71,540.00 L732.48,536.17 L732.19,532.35 L731.83,528.54 L731.41,524.73 L730.93,520.92 L730.38,517.13 L729.76,513.35 L729.09,509.58 L728.35,505.82 L727.54,502.08 L726.67,498.35 L725.74,494.64 L724.75,490.94 L723.69,487.27 L722.58,483.61 L721.40,479.97 L720.15,476.36 L718.85,472.77 L717.49,469.20 L716.07,465.66 L714.59,462.14 L713.04,458.65 L711.44,455.19 L709.78,451.76 L708.07,448.36 L706.29,444.99 L704.46,441.65 L702.58,438.35 L700.63,435.08 L698.64,431.84 L696.59,428.65 L694.48,425.49 L692.32,422.36 L690.11,419.28 L687.85,416.24 L685.53,413.24 L683.17,410.28 L680.75,407.36 L678.29,404.49 L675.78,401.66 L673.22,398.88 L670.61,396.15 L667.96,393.46 L665.27,390.82 L662.52,388.23 L659.74,385.69 L656.91,383.20 L654.05,380.76 L651.14,378.37 L648.19,376.04 L645.20,373.76 L642.17,371.53 L639.11,369.36 L636.01,367.24 L632.87,365.18 L629.70,363.18 L626.50,361.23 L623.26,359.35 L620.00,357.52 L616.70,355.75 L613.37,354.03 L610.02,352.38 L606.63,350.79 L603.23,349.27 L599.79,347.80 L596.33,346.39 L592.85,345.05 L589.35,343.77 L585.82,342.55 L582.28,341.40 L578.71,340.31 L575.13,339.29 L571.53,338.33 L567.91,337.43 L564.29,336.60 L560.64,335.84 L556.99,335.14 L553.32,334.50 L549.64,333.94 L545.96,333.44 L542.26,333.00 L538.56,332.64 L534.86,332.34 L531.15,332.10 L527.43,331.93 L523.72,331.83 L520.00,331.80 L516.28,331.83 L512.57,331.93 L508.85,332.10 L505.14,332.34 L501.44,332.64 L497.74,333.00 L494.04,333.44 L490.36,333.94 L486.68,334.50 L483.01,335.14 L479.36,335.84 L475.71,336.60 L472.09,337.43 L468.47,338.33 L464.87,339.29 L461.29,340.31 L457.72,341.40 L454.18,342.55 L450.65,343.77 L447.15,345.05 L443.67,346.39 L440.21,347.80 L436.77,349.27 L433.37,350.79 L429.98,352.38 L426.63,354.03 L423.30,355.75 L420.00,357.52 L416.74,359.35 L413.50,361.23 L410.30,363.18 L407.13,365.18 L403.99,367.24 L400.89,369.36 L397.83,371.53 L394.80,373.76 L391.81,376.04 L388.86,378.37 L385.95,380.76 L383.09,383.20 L380.26,385.69 L377.48,388.23 L374.73,390.82 L372.04,393.46 L369.39,396.15 L366.78,398.88 L364.22,401.66 L361.71,404.49 L359.25,407.36 L356.83,410.28 L354.47,413.24 L352.15,416.24 L349.89,419.28 L347.68,422.36 L345.52,425.49 L343.41,428.65 L341.36,431.84 L339.37,435.08 L337.42,438.35 L335.54,441.65 L333.71,444.99 L331.93,448.36 L330.22,451.76 L328.56,455.19 L326.96,458.65 L325.41,462.14 L323.93,465.66 L322.51,469.20 L321.15,472.77 L319.85,476.36 L318.60,479.97 L317.42,483.61 L316.31,487.27 L315.25,490.94 L314.26,494.64 L313.33,498.35 L312.46,502.08 L311.65,505.82 L310.91,509.58 L310.24,513.35 L309.62,517.13 L309.07,520.92 L308.59,524.73 L308.17,528.54 L307.81,532.35 L307.52,536.17 L307.29,540.00 L307.13,543.83 L307.03,547.67 L307.00,551.50 L307.03,555.33 L307.13,559.17 L307.29,563.00 L307.52,566.83 L307.81,570.65 L308.17,574.46 L308.59,578.27 L309.07,582.08 L309.62,585.87 L310.24,589.65 L310.91,593.42 L311.65,597.18 L312.46,600.92 L313.33,604.65 L314.26,608.36 L315.25,612.06 L316.31,615.73 L317.42,619.39 L318.60,623.03 L319.85,626.64 L321.15,630.23 L322.51,633.80 L323.93,637.34 L325.41,640.86 L326.96,644.35 L328.56,647.81 L330.22,651.24 L331.93,654.64 L333.71,658.01 L335.54,661.35 L337.42,664.65 L339.37,667.92 L341.36,671.16 L343.41,674.35 L345.52,677.51 L347.68,680.64 L349.89,683.72 L352.15,686.76 L354.47,689.76 L356.83,692.72 L359.25,695.64 L361.71,698.51 L364.22,701.34 L366.78,704.12 L369.39,706.85 L372.04,709.54 L374.73,712.18 L377.48,714.77 L380.26,717.31 L383.09,719.80 L385.95,722.24 L388.86,724.63 L391.81,726.96 L394.80,729.24 L397.83,731.47 L400.89,733.64 L403.99,735.76 L407.13,737.82 L410.30,739.82 L413.50,741.77 L416.74,743.65 L420.00,745.48 L423.30,747.25 L426.63,748.97 L429.98,750.62 L433.37,752.21 L436.77,753.73 L440.21,755.20 L443.67,756.61 L447.15,757.95 L450.65,759.23 L454.18,760.45 L457.72,761.60 L461.29,762.69 L464.87,763.71 L468.47,764.67 L472.09,765.57 L475.71,766.40 L479.36,767.16 L483.01,767.86 L486.68,768.50 L490.36,769.06 L494.04,769.56 L497.74,770.00 L501.44,770.36 L505.14,770.66 L508.85,770.90 L512.57,771.07 L516.28,771.17 L520.00,771.20"/>
</g>
</g>
<rect x="67.5" y="45.5" width="930.0" height="1001.0" fill="none" stroke="#000" stroke-width="1.1"/>
<g stroke="#000" stroke-width="1.1">
<path d="M125.5,1046.5 v4.9"/>
<path d="M319.5,1046.5 v4.9"/>
<path d="M513.5,1046.5 v4.9"/>
<path d="M706.5,1046.5 v4.9"/>
<path d="M900.5,1046.5 v4.9"/>
<path d="M67.5,925.5 h-4.9"/>
<path d="M67.5,773.5 h-4.9"/>
<path d="M67.5,622.5 h-4.9"/>
<path d="M67.5,470.5 h-4.9"/>
<path d="M67.5,318.5 h-4.9"/>
<path d="M67.5,167.5 h-4.9"/>
</g>
<g font-size="17.5px" fill="#000">
<text x="124.6" y="1069.8" text-anchor="middle" textLength="24.8" lengthAdjust="spacingAndGlyphs">6.0</text>
<text x="318.6" y="1069.8" text-anchor="middle" textLength="24.8" lengthAdjust="spacingAndGlyphs">6.1</text>
<text x="512.6" y="1069.8" text-anchor="middle" textLength="24.8" lengthAdjust="spacingAndGlyphs">6.2</text>
<text x="705.6" y="1069.8" text-anchor="middle" textLength="24.8" lengthAdjust="spacingAndGlyphs">6.3</text>
<text x="899.6" y="1069.8" text-anchor="middle" textLength="24.8" lengthAdjust="spacingAndGlyphs">6.4</text>
<text x="56.5" y="931.8" text-anchor="end" textLength="45.5" lengthAdjust="spacingAndGlyphs">49.50</text>
<text x="56.5" y="779.8" text-anchor="end" textLength="45.5" lengthAdjust="spacingAndGlyphs">49.55</text>
<text x="56.5" y="628.8" text-anchor="end" textLength="45.5" lengthAdjust="spacingAndGlyphs">49.60</text>
<text x="56.5" y="476.8" text-anchor="end" textLength="45.5" lengthAdjust="spacingAndGlyphs">49.65</text>
<text x="56.5" y="324.8" text-anchor="end" textLength="45.5" lengthAdjust="spacingAndGlyphs">49.70</text>
<text x="56.5" y="173.8" text-anchor="end" textLength="45.5" lengthAdjust="spacingAndGlyphs">49.75</text>
</g>
<g font-size="37px">
<text x="337.0" y="37.8" textLength="197.5" lengthAdjust="spacingAndGlyphs">06.03.2026</text>
<text x="547.2" y="37.8" textLength="98.5" lengthAdjust="spacingAndGlyphs">03:54</text>
<text x="658.5" y="37.8" textLength="68" lengthAdjust="spacingAndGlyphs">UTC</text>
</g>
<text x="284.6" y="123" font-size="20.2px" font-weight="bold" stroke="#000" stroke-width="0.35" textLength="66.3" lengthAdjust="spacingAndGlyphs">16 km</text>
<text x="404.5" y="317.9" font-size="20.2px" font-weight="bold" stroke="#000" stroke-width="0.35" textLength="52.5" lengthAdjust="spacingAndGlyphs">8 km</text>
<rect x="1055.5" y="964.51" width="45.0" height="32.48" fill="#6677AA"/>
<rect x="1055.5" y="932.33" width="45.0" height="32.48" fill="#5068A5"/>
<rect x="1055.5" y="900.15" width="45.0" height="32.48" fill="#4360A4"/>
<rect x="1055.5" y="867.98" width="45.0" height="32.48" fill="#4C7DB5"/>
<rect x="1055.5" y="835.80" width="45.0" height="32.48" fill="#5A9EC8"/>
<rect x="1055.5" y="803.62" width="45.0" height="32.48" fill="#66C0DC"/>
<rect x="1055.5" y="771.44" width="45.0" height="32.48" fill="#66D6C4"/>
<rect x="1055.5" y="739.26" width="45.0" height="32.48" fill="#3ED670"/>
<rect x="1055.5" y="707.08" width="45.0" height="32.48" fill="#14C81E"/>
<rect x="1055.5" y="674.90" width="45.0" height="32.48" fill="#12B41E"/>
<rect x="1055.5" y="642.73" width="45.0" height="32.48" fill="#10A01A"/>
<rect x="1055.5" y="610.55" width="45.0" height="32.48" fill="#0E8C18"/>
<rect x="1055.5" y="578.37" width="45.0" height="32.48" fill="#0C7812"/>
<rect x="1055.5" y="546.19" width="45.0" height="32.48" fill="#0A6410"/>
<rect x="1055.5" y="514.01" width="45.0" height="32.48" fill="#467A0C"/>
<rect x="1055.5" y="481.83" width="45.0" height="32.48" fill="#B0B008"/>
<rect x="1055.5" y="449.65" width="45.0" height="32.48" fill="#FFD700"/>
<rect x="1055.5" y="417.48" width="45.0" height="32.48" fill="#FFB400"/>
<rect x="1055.5" y="385.30" width="45.0" height="32.48" fill="#FF9A00"/>
<rect x="1055.5" y="353.12" width="45.0" height="32.48" fill="#FF8200"/>
<rect x="1055.5" y="320.94" width="45.0" height="32.48" fill="#E00000"/>
<rect x="1055.5" y="288.76" width="45.0" height="32.48" fill="#BE0000"/>
<rect x="1055.5" y="256.58" width="45.0" height="32.48" fill="#9C0000"/>
<rect x="1055.5" y="224.40" width="45.0" height="32.48" fill="#780000"/>
<rect x="1055.5" y="192.23" width="45.0" height="32.48" fill="#FFDCFF"/>
<rect x="1055.5" y="160.05" width="45.0" height="32.48" fill="#FFB0FF"/>
<rect x="1055.5" y="127.87" width="45.0" height="32.48" fill="#FA6AFA"/>
<rect x="1055.5" y="95.69" width="45.0" height="32.48" fill="#E838EC"/>
<rect x="1055.5" y="95.5" width="45.0" height="901.0" fill="none" stroke="#000" stroke-width="1.1"/>
<g stroke="#000" stroke-width="1.1">
<path d="M1100.5,996.5 h4.9"/>
<path d="M1100.5,868.5 h4.9"/>
<path d="M1100.5,739.5 h4.9"/>
<path d="M1100.5,610.5 h4.9"/>
<path d="M1100.5,482.5 h4.9"/>
<path d="M1100.5,353.5 h4.9"/>
<path d="M1100.5,224.5 h4.9"/>
<path d="M1100.5,95.5 h4.9"/>
</g>
<g font-size="30px" fill="#000">
<text x="1110.5" y="1007.0" textLength="16.9" lengthAdjust="spacingAndGlyphs">0</text>
<text x="1110.5" y="879.0" textLength="33.8" lengthAdjust="spacingAndGlyphs">10</text>
<text x="1110.5" y="750.0" textLength="33.8" lengthAdjust="spacingAndGlyphs">20</text>
<text x="1110.5" y="621.0" textLength="33.8" lengthAdjust="spacingAndGlyphs">30</text>
<text x="1110.5" y="493.0" textLength="33.8" lengthAdjust="spacingAndGlyphs">40</text>
<text x="1110.5" y="364.0" textLength="33.8" lengthAdjust="spacingAndGlyphs">50</text>
<text x="1110.5" y="235.0" textLength="33.8" lengthAdjust="spacingAndGlyphs">60</text>
<text x="1110.5" y="106.0" textLength="33.8" lengthAdjust="spacingAndGlyphs">70</text>
</g>
<text transform="translate(1173.7,548.5) rotate(-90)" text-anchor="middle" font-size="30.5px" textLength="54.5" lengthAdjust="spacingAndGlyphs">dBZ</text>
</svg></body></html>
